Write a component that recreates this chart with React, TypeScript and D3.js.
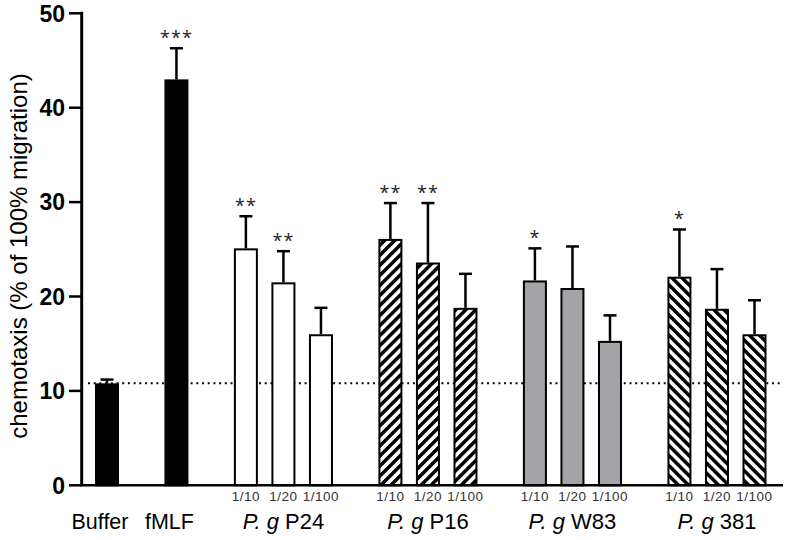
import React, { useRef, useEffect } from "react";
import * as d3 from "d3";

// control bars
const controlLabels = ["Buffer", "fMLF"];
const controlMeans = [10.8, 43.0];
const controlErrors = [0.4, 3.3];
const controlStars = ["", "***"];

// P. gingivalis strains, three dilutions each
const strainLabels = ["P24", "P16", "W83", "381"];
const dilutionLabels = ["1/10", "1/20", "1/100"];
const p24Means = [25.1, 21.5, 16.0];
const p24Errors = [3.4, 3.3, 2.8];
const p16Means = [26.1, 23.6, 18.8];
const p16Errors = [3.8, 6.3, 3.6];
const w83Means = [21.7, 20.9, 15.3];
const w83Errors = [3.4, 4.4, 2.7];
const s381Means = [22.1, 18.7, 16.0];
const s381Errors = [5.0, 4.2, 3.6];
const strainStars = [
  ["**", "**", ""],
  ["**", "**", ""],
  ["*", "", ""],
  ["*", "", ""],
];

const bufferLevel = 10.8;
const yTicks = [0, 10, 20, 30, 40, 50];

const App = () => {
  const ref = useRef(null);

  useEffect(() => {
    const svg = d3.select(ref.current);
    svg.selectAll("*").remove();

    const groupGap = 0.85;
    const barW = 24;

    // flatten everything into one bar list
    const fills = ["#000", "#000", "#fff", "url(#hatchFwd)", "#a3a3a8", "url(#hatchBack)"];
    const strainMeans = [p24Means, p16Means, w83Means, s381Means];
    const strainErrors = [p24Errors, p16Errors, w83Errors, s381Errors];
    const bars = [];
    let idx = 0;
    controlLabels.forEach((lab, i) => {
      bars.push({
        group: i,
        sub: "",
        mean: controlMeans[i],
        err: controlErrors[i],
        stars: controlStars[i],
        fill: fills[i],
        pos: idx + i * groupGap,
      });
      idx++;
    });
    strainLabels.forEach((lab, s) => {
      dilutionLabels.forEach((d, j) => {
        bars.push({
          group: s + 2,
          sub: d,
          mean: strainMeans[s][j],
          err: strainErrors[s][j],
          stars: strainStars[s][j],
          fill: fills[s + 2],
          pos: idx + (s + 2) * groupGap,
        });
        idx++;
      });
    });

    const xScale = d3
      .scaleLinear()
      .domain([0, d3.max(bars, (d) => d.pos)])
      .range([107, 754.5]);

    const yScale = d3.scaleLinear().domain([0, 50]).range([485.3, 13.3]);

    // patterns
    const defs = svg.append("defs");
    [
      ["hatchFwd", 45],
      ["hatchBack", -45],
    ].forEach(([id, angle]) => {
      const p = defs
        .append("pattern")
        .attr("id", id)
        .attr("patternUnits", "userSpaceOnUse")
        .attr("width", 7.1)
        .attr("height", 7.1)
        .attr("patternTransform", `rotate(${angle})`);
      p.append("rect").attr("width", 7.1).attr("height", 7.1).attr("fill", "#fff");
      p.append("rect").attr("width", 3.5).attr("height", 7.1).attr("fill", "#000");
    });

    // dotted buffer reference line
    svg
      .append("line")
      .attr("x1", 88)
      .attr("x2", 783)
      .attr("y1", yScale(bufferLevel))
      .attr("y2", yScale(bufferLevel))
      .attr("stroke", "#000")
      .attr("stroke-width", 2)
      .attr("stroke-dasharray", "2 3.7");

    // error bars (upper only)
    const eb = svg.append("g").attr("stroke", "#000").attr("stroke-width", 2.5);
    bars.forEach((d) => {
      const cx = xScale(d.pos);
      eb.append("line")
        .attr("x1", cx)
        .attr("x2", cx)
        .attr("y1", yScale(d.mean))
        .attr("y2", yScale(d.mean + d.err));
      eb.append("line")
        .attr("x1", cx - 6.5)
        .attr("x2", cx + 6.5)
        .attr("y1", yScale(d.mean + d.err))
        .attr("y2", yScale(d.mean + d.err));
    });

    // bars
    svg
      .append("g")
      .selectAll("rect")
      .data(bars)
      .join("rect")
      .attr("x", (d) => xScale(d.pos) - barW / 2 + 1)
      .attr("width", barW - 2)
      .attr("y", (d) => yScale(d.mean) + 1)
      .attr("height", (d) => yScale(0) - yScale(d.mean) - 1)
      .attr("fill", (d) => d.fill)
      .attr("stroke", "#000")
      .attr("stroke-width", 2);

    // significance stars
    svg
      .append("g")
      .selectAll("text")
      .data(bars.filter((d) => d.stars))
      .join("text")
      .attr("x", (d) => xScale(d.pos))
      .attr("y", (d) => yScale(d.mean + d.err) - 4)
      .attr("text-anchor", "middle")
      .attr("font-family", "Open Sans, sans-serif")
      .attr("font-size", 18)
      .attr("letter-spacing", 1)
      .attr("fill", "#222")
      .text((d) => d.stars);

    // y axis
    const yAxis = svg.append("g");
    yAxis
      .append("line")
      .attr("x1", 81.7)
      .attr("x2", 81.7)
      .attr("y1", yScale(50) - 1.5)
      .attr("y2", yScale(0))
      .attr("stroke", "#000")
      .attr("stroke-width", 3);
    yTicks.forEach((t) => {
      yAxis
        .append("line")
        .attr("x1", 69)
        .attr("x2", 81.7)
        .attr("y1", yScale(t))
        .attr("y2", yScale(t))
        .attr("stroke", "#000")
        .attr("stroke-width", 2.5);
      yAxis
        .append("text")
        .attr("x", 65)
        .attr("y", yScale(t))
        .attr("dy", "0.36em")
        .attr("text-anchor", "end")
        .attr("font-family", "Liberation Sans, sans-serif")
        .attr("font-weight", "bold")
        .attr("font-size", 23)
        .text(t);
    });

    // x axis
    svg
      .append("line")
      .attr("x1", 80)
      .attr("x2", 783)
      .attr("y1", yScale(0))
      .attr("y2", yScale(0))
      .attr("stroke", "#000")
      .attr("stroke-width", 2.5);

    // dilution labels
    svg
      .append("g")
      .selectAll("text")
      .data(bars.filter((d) => d.sub))
      .join("text")
      .attr("x", (d) => xScale(d.pos))
      .attr("y", 501)
      .attr("text-anchor", "middle")
      .attr("font-family", "Liberation Sans, sans-serif")
      .attr("font-size", 13.5)
      .attr("letter-spacing", 0.5)
      .attr("fill", "#333")
      .text((d) => d.sub);

    // group labels
    controlLabels.forEach((lab, i) => {
      svg
        .append("text")
        .attr("x", xScale(bars[i].pos) - 7)
        .attr("y", 529)
        .attr("text-anchor", "middle")
        .attr("font-family", "Liberation Sans, sans-serif")
        .attr("font-size", 21.5)
        .text(lab);
    });
    strainLabels.forEach((lab, s) => {
      const mid = bars.find((d) => d.group === s + 2 && d.sub === dilutionLabels[1]);
      const t = svg
        .append("text")
        .attr("x", xScale(mid.pos))
        .attr("y", 529)
        .attr("text-anchor", "middle")
        .attr("font-family", "Liberation Sans, sans-serif")
        .attr("font-size", 22);
      t.append("tspan").attr("font-style", "italic").text("P. g");
      t.append("tspan").text(" " + lab);
    });

    // y title
    svg
      .append("text")
      .attr("transform", "rotate(-90)")
      .attr("x", -256)
      .attr("y", 27)
      .attr("text-anchor", "middle")
      .attr("font-family", "Liberation Sans, sans-serif")
      .attr("font-size", 24)
      .text("chemotaxis (% of 100% migration)");
  }, []);

  return (
    <svg
      ref={ref}
      width={787}
      height={540}
      style={{ position: "absolute", left: 0, top: 0, background: "#fff" }}
    ></svg>
  );
};

export default App;
